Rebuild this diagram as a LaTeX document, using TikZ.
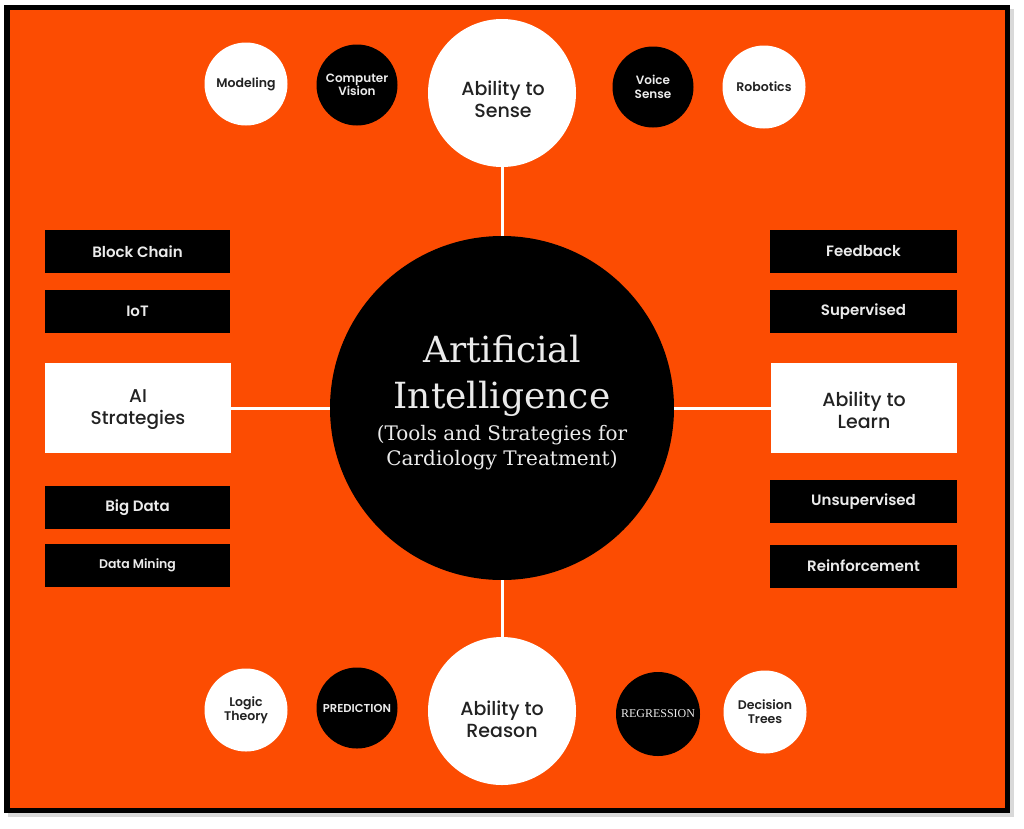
\documentclass[tikz,border=0pt]{standalone}
\usepackage{fontspec}
\setmainfont{Poppins}[BoldFont={Poppins SemiBold}]
\newfontfamily\medfont{Poppins Medium}
\newfontfamily\aiserif{DejaVu Serif}
\newfontfamily\regserif{Liberation Serif}
\definecolor{bgorange}{RGB}{252,76,2}
\definecolor{darktext}{RGB}{34,34,34}
\definecolor{lighttext}{RGB}{235,235,235}
\begin{document}
\begin{tikzpicture}[x=1pt,y=-1pt,
  blackbox/.style={fill=black,minimum width=185pt,minimum height=43pt,inner sep=0pt,text=lighttext,font=\bfseries\fontsize{15}{17}\selectfont},
  whitebox/.style={fill=white,minimum width=186pt,minimum height=90pt,inner sep=0pt},
  bigwhite/.style={circle,fill=white,minimum size=148pt,inner sep=0pt},
  bigtext/.style={text=darktext,align=center,font=\medfont\fontsize{19}{22}\selectfont},
  smallwhite/.style={circle,fill=white,minimum size=83pt,inner sep=0pt,text=darktext,align=center,font=\bfseries\fontsize{12.5}{14}\selectfont},
  smallblack/.style={circle,fill=black,minimum size=81pt,inner sep=0pt,text=lighttext,align=center,font=\bfseries\fontsize{12}{13.5}\selectfont},
  ailine/.style={text=lighttext,anchor=base,font=\aiserif},
  conn/.style={draw=white,line width=3pt}]
\useasboundingbox (0,0) rectangle (1024,828);
\fill[white] (0,0) rectangle (1024,828);
\fill[black!15] (8,9) rectangle (1014,817);
\fill[black] (4,5) rectangle (1010,813);
\fill[bgorange] (10,10) rectangle (1005,808);
% central circle
\node[circle,fill=black,minimum size=344pt,inner sep=0pt] (ai) at (502,408) {};
\node[ailine,font=\aiserif\fontsize{36}{40}\selectfont] (ai1) at (502,362) {Artificial};
\node[ailine,font=\aiserif\fontsize{36}{40}\selectfont] (ai2) at (502,408) {Intelligence};
\node[ailine,font=\aiserif\fontsize{20}{24}\selectfont] (ai3) at (502,440) {(Tools and Strategies for};
\node[ailine,font=\aiserif\fontsize{20}{24}\selectfont] (ai4) at (502,465) {Cardiology Treatment)};
% big circles
\node[bigwhite] (sense) at (502,93) {};
\node[bigtext] (sensetext) at (503,99) {Ability to\\Sense};
\node[bigwhite] (reason) at (502,711) {};
\node[bigtext] (reasontext) at (502,719) {Ability to\\Reason};
% side white boxes
\node[whitebox] (strat) at (138,408) {};
\node[bigtext,font=\medfont\fontsize{18.5}{22}\selectfont] (strattext) at (138,410) {AI\\Strategies};
\node[whitebox] (learn) at (864,408) {};
\node[bigtext] (learntext) at (864,410) {Ability to\\Learn};
% connectors
\draw[conn] (sense) -- (ai);
\draw[conn] (reason) -- (ai);
\draw[conn] (strat) -- (ai);
\draw[conn] (learn) -- (ai);
% left boxes
\node[blackbox] (block) at (137.5,251.5) {Block Chain};
\node[blackbox] (iot) at (137.5,311.5) {IoT};
\node[blackbox] (bigdata) at (137.5,507.5) {Big Data};
\node[blackbox,font=\bfseries\fontsize{12.5}{14}\selectfont] (mining) at (137.5,565) {Data Mining};
% right boxes
\node[blackbox,minimum width=187pt] (feedback) at (863.5,251.5) {Feedback};
\node[blackbox,minimum width=187pt] (superv) at (863.5,311.5) {Supervised};
\node[blackbox,minimum width=187pt] (unsup) at (863.5,501.5) {Unsupervised};
\node[blackbox,minimum width=187pt] (reinf) at (863.5,566) {Reinforcement};
% top small circles
\node[smallwhite] (model) at (246,84) {Modeling};
\node[smallblack] (cv) at (357,85) {Computer\\Vision};
\node[smallblack] (voice) at (653,87) {Voice\\Sense};
\node[smallwhite] (robot) at (764,87) {Robotics};
% bottom small circles
\node[smallwhite] (logic) at (246,710) {Logic\\Theory};
\node[smallblack,font=\bfseries\fontsize{11.5}{13}\selectfont] (pred) at (357,708) {PREDICTION};
\node[smallblack,minimum size=84pt,font=\regserif\fontsize{12}{14}\selectfont] (regr) at (658,714) {REGRESSION};
\node[smallwhite] (dtree) at (765,712) {Decision\\Trees};
\end{tikzpicture}
\end{document}
